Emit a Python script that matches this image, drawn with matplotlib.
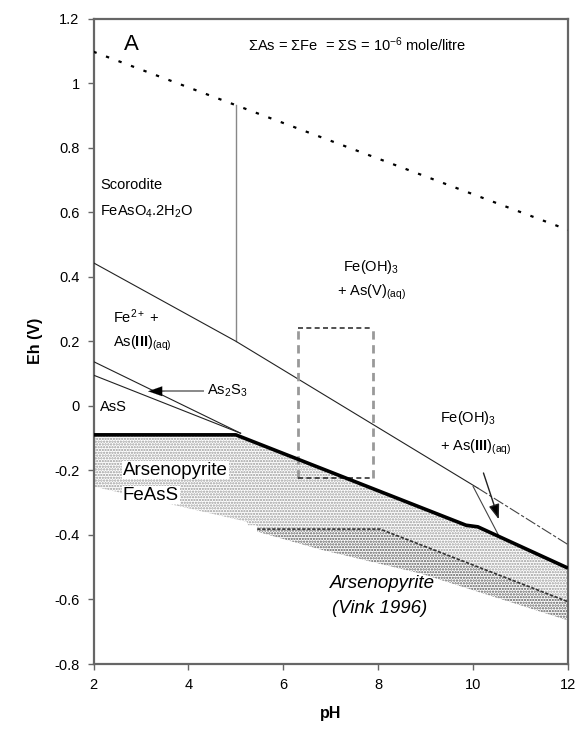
import matplotlib
matplotlib.use("Agg")
import matplotlib.pyplot as plt
import numpy as np

plt.rcParams['font.family'] = ['Liberation Sans', 'DejaVu Sans']
plt.rcParams['mathtext.fontset'] = 'custom'
plt.rcParams['mathtext.rm'] = 'Liberation Sans'
plt.rcParams['mathtext.it'] = 'Liberation Sans:italic'
plt.rcParams['mathtext.bf'] = 'Liberation Sans:bold'
plt.rcParams['hatch.linewidth'] = 1.1

# ---- data (pH, Eh) ----
x_ticks = [2, 4, 6, 8, 10, 12]
y_ticks = [-0.8, -0.6, -0.4, -0.2, 0, 0.2, 0.4, 0.6, 0.8, 1, 1.2]
y_tick_labels = ["-0.8", "-0.6", "-0.4", "-0.2", "0", "0.2", "0.4", "0.6", "0.8", "1", "1.2"]

water_ph = [2, 12]
water_eh = [1.097, 0.545]

fe_ph = [2, 5, 10.1]
fe_eh = [0.443, 0.2, -0.255]
fe_tail_ph = [10.1, 12]
fe_tail_eh = [-0.255, -0.43]

scor_ph = [5, 5]
scor_eh = [0.931, 0.2]

as2s3_ph = [2, 5.1]
as2s3_eh = [0.137, -0.085]
ass_ph = [2, 5.1]
ass_eh = [0.095, -0.085]

apy_ph = [2, 5.0, 9.85, 10.1, 12]
apy_eh = [-0.09, -0.09, -0.37, -0.375, -0.503]

branch_ph = [10.0, 10.55]
branch_eh = [-0.25, -0.405]

vink_ph = [5.45, 8.04, 12]
vink_eh = [-0.382, -0.382, -0.607]

lower_ph = [5.45, 6.8, 8.9, 12]
lower_eh = [-0.39, -0.446, -0.52, -0.665]

left_block_ph = [2, 5.25]
left_block_bottom = [-0.25, -0.36]

box_ph = [6.31, 7.89]
box_eh = [-0.223, 0.24]

fig = plt.figure(figsize=(5.82, 7.33), dpi=100)
ax = fig.add_axes([93.5 / 582, 69 / 733, (568 - 93.5) / 582, (664 - 18.5) / 733])
ax.set_xlim(2, 12)
ax.set_ylim(-0.8, 1.2)

# ---- stippled fields ----
grid = np.linspace(2, 12, 400)
top = np.interp(grid, apy_ph, apy_eh)
lb = np.where(grid <= left_block_ph[1],
              np.interp(grid, left_block_ph, left_block_bottom),
              np.interp(grid, vink_ph, vink_eh, left=-0.37))
ax.fill_between(grid, top, lb, facecolor='none', edgecolor='#9a9a9a',
                hatch='......', linewidth=0, zorder=1)
g2 = np.linspace(vink_ph[0], 12, 300)
ax.fill_between(g2, np.interp(g2, vink_ph, vink_eh), np.interp(g2, lower_ph, lower_eh),
                facecolor='none', edgecolor='#5a5a5a', hatch='......', linewidth=0, zorder=1)

# ---- lines ----
ax.plot(water_ph, water_eh, color='black', lw=1.6, linestyle=(0, (1.5, 4.5)), zorder=3)
ax.plot(scor_ph, scor_eh, color='#888888', lw=1.0, zorder=3)
ax.plot(fe_ph, fe_eh, color='#222222', lw=0.8, zorder=3)
ax.plot(fe_tail_ph, fe_tail_eh, color='#444444', lw=0.8, linestyle=(0, (10, 2, 3, 2)), zorder=3)
ax.plot(as2s3_ph, as2s3_eh, color='#222222', lw=0.8, zorder=3)
ax.plot(ass_ph, ass_eh, color='#222222', lw=0.8, zorder=3)
ax.plot(branch_ph, branch_eh, color='#444444', lw=0.8, zorder=3)
ax.plot(apy_ph, apy_eh, color='black', lw=2.6, solid_capstyle='butt', zorder=4)
ax.plot(vink_ph, vink_eh, color='#333333', lw=1.2, linestyle=(0, (2, 1)), zorder=3)

# dashed box
ax.plot([box_ph[0], box_ph[0]], box_eh, color='#999999', lw=2.0, linestyle=(0, (3, 2)), zorder=3)
ax.plot([box_ph[1], box_ph[1]], box_eh, color='#999999', lw=2.0, linestyle=(0, (3, 2)), zorder=3)
ax.plot(box_ph, [box_eh[1], box_eh[1]], color='#333333', lw=1.2, linestyle=(0, (3, 2)), zorder=3)
ax.plot(box_ph, [box_eh[0], box_eh[0]], color='#333333', lw=1.2, linestyle=(0, (3, 2)), zorder=3)

# ---- arrows ----
ax.plot([3.4, 4.3], [0.045, 0.045], color='#888888', lw=1.4, zorder=5)
ax.annotate('', xy=(3.15, 0.045), xytext=(3.5, 0.045),
            arrowprops=dict(arrowstyle='-|>,head_length=1.0,head_width=0.35', color='black', lw=0.1,
                            mutation_scale=10, fc='black', ec='black', shrinkA=0, shrinkB=0), zorder=5)
ax.annotate('', xy=(10.56, -0.36), xytext=(10.2, -0.2),
            arrowprops=dict(arrowstyle='-|>,head_length=0.9,head_width=0.32', color='#222222', lw=1.0,
                            mutation_scale=10, fc='black'), zorder=5)

# ---- text ----
fs = 10.5
ax.text(2.8, 1.118, 'A', fontsize=16, ha='center', va='center')
ax.text(7.55, 1.118, r'$\Sigma$As = $\Sigma$Fe  = $\Sigma$S = 10$^{-6}$ mole/litre',
        fontsize=10.5, ha='center', va='center')
ax.text(2.14, 0.684, 'Scorodite', fontsize=fs, ha='left', va='center')
ax.text(2.14, 0.60, r'FeAsO$_4$.2H$_2$O', fontsize=fs, ha='left', va='center')
ax.text(7.85, 0.43, r'Fe(OH)$_3$', fontsize=fs, ha='center', va='center')
ax.text(7.85, 0.35, r'+ As(V)$_{\mathrm{(aq)}}$', fontsize=fs, ha='center', va='center')
ax.text(2.41, 0.275, r'Fe$^{2+}$ +', fontsize=fs, ha='left', va='center')
ax.text(2.41, 0.195, r'As($\mathbf{III}$)$_{\mathrm{(aq)}}$', fontsize=fs, ha='left', va='center')
ax.text(4.39, 0.045, r'As$_2$S$_3$', fontsize=fs, ha='left', va='center')
ax.text(2.14, -0.004, 'AsS', fontsize=fs, ha='left', va='center')
ax.text(2.62, -0.199, 'Arsenopyrite', fontsize=13.5, ha='left', va='center', zorder=6,
        bbox=dict(facecolor='white', edgecolor='none', pad=0.5))
ax.text(2.62, -0.277, 'FeAsS', fontsize=13.5, ha='left', va='center', zorder=6,
        bbox=dict(facecolor='white', edgecolor='none', pad=0.5))
ax.text(9.3, -0.038, r'Fe(OH)$_3$', fontsize=fs, ha='left', va='center')
ax.text(9.3, -0.128, r'+ As($\mathbf{III}$)$_{\mathrm{(aq)}}$', fontsize=fs, ha='left', va='center')
ax.text(6.98, -0.55, 'Arsenopyrite', fontsize=13.5, style='italic', ha='left', va='center', zorder=6)
ax.text(7.02, -0.627, '(Vink 1996)', fontsize=13.5, style='italic', ha='left', va='center', zorder=6)

# ---- axes styling ----
ax.set_xticks(x_ticks)
ax.set_xticklabels([str(v) for v in x_ticks])
ax.set_yticks(y_ticks)
ax.set_yticklabels(y_tick_labels)
ax.tick_params(direction='out', length=4, width=1.0, color='#666666', labelsize=10.5, pad=6)
for s in ax.spines.values():
    s.set_color('#666666')
    s.set_linewidth(1.6)
ax.set_xlabel('pH', fontsize=11.5, fontweight='bold', labelpad=10)
ax.set_ylabel('Eh (V)', fontsize=11.5, fontweight='bold', labelpad=8)

fig.savefig('out.png', dpi=100)
